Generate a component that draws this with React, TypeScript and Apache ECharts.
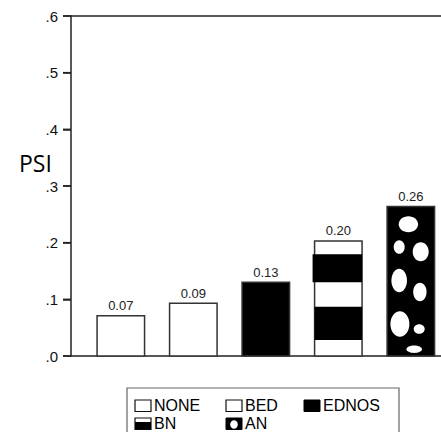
import React, { useEffect, useRef } from "react";
import * as echarts from "echarts";

// ---- data ----
const categories = ["NONE", "BED", "EDNOS", "BN", "AN"];
const psiValues = [0.071, 0.093, 0.13, 0.203, 0.264];
const fillKinds = ["white", "white", "black", "stripes", "dots"];
const yTicks = [0, 0.1, 0.2, 0.3, 0.4, 0.5, 0.6];
const yMin = 0;
const yMax = 0.6;
const yInterval = 0.1;

// ---- styling constants ----
const W = 441;
const H = 432;
const X_MIN = 0.313;
const X_MAX = 5.416;
const BAR_UNITS = 0.655;
const STROKE = "#333";
const AXIS = "#222";
const STRIPES = [
  [0.116, 0.359, -2],
  [0.571, 0.861, 0],
];
const DOTS = [
  [21.3, 131.8, 9.7, 8],
  [12.1, 109, 5.5, 6.8],
  [33.6, 104.3, 8, 9.5],
  [12.1, 75.5, 7.8, 11.8],
  [32.8, 64, 6.7, 9.2],
  [12.8, 32, 9.5, 12.8],
  [32.1, 27, 5.5, 4.8],
  [27.1, 6.8, 7.8, 3.7],
];

function renderBar(params: any, api: any) {
  const i = params.dataIndex;
  const x = api.value(0);
  const y = api.value(1);
  const top = api.coord([x, y]);
  const bot = api.coord([x, 0]);
  const w = api.size([BAR_UNITS, 0])[0];
  const left = top[0] - w / 2;
  const h = bot[1] - top[1];
  const kind = fillKinds[i];
  const children: any[] = [];
  children.push({
    type: "rect",
    shape: { x: left, y: top[1], width: w, height: h },
    style: {
      fill: kind === "black" || kind === "dots" ? "#000" : "#fff",
      stroke: STROKE,
      lineWidth: 1.5,
    },
  });
  if (kind === "stripes") {
    STRIPES.forEach(([a, b, ext]) => {
      children.push({
        type: "rect",
        shape: { x: left + ext, y: top[1] + a * h, width: w - ext, height: (b - a) * h },
        style: { fill: "#000" },
      });
    });
  }
  if (kind === "dots") {
    DOTS.forEach(([dx, dy, rx, ry]) => {
      children.push({
        type: "ellipse",
        shape: { cx: left + dx, cy: bot[1] - dy, rx, ry },
        style: { fill: "#fff" },
      });
    });
  }
  children.push({
    type: "text",
    style: {
      x: top[0],
      y: top[1] - 10,
      text: y.toFixed(2),
      align: "center",
      verticalAlign: "middle",
      font: "13px 'Liberation Sans', Arial, sans-serif",
      fill: "#222",
    },
  });
  return { type: "group", children };
}

// tick marks on the y axis and the top frame line, placed through the axes' scales
function renderFrame(params: any, api: any) {
  const v = api.value(1);
  const p = api.coord([X_MIN, v]);
  const children: any[] = [
    {
      type: "line",
      shape: { x1: p[0] - 8, y1: p[1], x2: p[0], y2: p[1] },
      style: { stroke: AXIS, lineWidth: 1.5 },
    },
  ];
  if (Math.abs(v - yMax) < 1e-9) {
    const pr = api.coord([X_MAX, yMax]);
    children.push({
      type: "line",
      shape: { x1: p[0], y1: p[1], x2: pr[0], y2: p[1] },
      style: { stroke: AXIS, lineWidth: 1.5 },
    });
  }
  return { type: "group", children };
}

function legendGraphics() {
  const colX = [135, 226, 304];
  const rowY = [400, 418];
  const els: any[] = [
    {
      type: "rect",
      shape: { x: 127, y: 388, width: 272, height: 60 },
      style: { fill: "#fff", stroke: "#666", lineWidth: 1.2 },
    },
  ];
  categories.forEach((name, i) => {
    const sx = colX[i % 3];
    const sy = rowY[Math.floor(i / 3)];
    const kind = fillKinds[i];
    const sw = 16;
    const sh = 11.5;
    if (kind === "white") {
      els.push({
        type: "rect",
        shape: { x: sx, y: sy, width: sw, height: sh },
        style: { fill: "#fff", stroke: "#111", lineWidth: 1.2 },
      });
    } else if (kind === "black") {
      els.push({
        type: "rect",
        shape: { x: sx, y: sy, width: sw, height: sh },
        style: { fill: "#000", stroke: "#000", lineWidth: 1 },
      });
    } else if (kind === "stripes") {
      els.push({
        type: "rect",
        shape: { x: sx, y: sy, width: sw, height: sh },
        style: { fill: "#fff", stroke: "#111", lineWidth: 1.2 },
      });
      els.push({
        type: "rect",
        shape: { x: sx, y: sy + 4, width: sw, height: sh - 4 },
        style: { fill: "#000" },
      });
    } else {
      els.push({
        type: "rect",
        shape: { x: sx, y: sy, width: sw, height: sh },
        style: { fill: "#000", stroke: "#000", lineWidth: 1 },
      });
      els.push({
        type: "ellipse",
        shape: { cx: sx + sw / 2, cy: sy + sh / 2 + 0.8, rx: 3.8, ry: 4.3 },
        style: { fill: "#fff" },
      });
    }
    els.push({
      type: "text",
      x: sx + 19,
      y: sy + sh / 2,
      style: {
        text: name,
        font: "16px 'Liberation Sans', Arial, sans-serif",
        fill: "#000",
        verticalAlign: "middle",
        align: "left",
      },
    });
  });
  return els;
}

export default function App() {
  const ref = useRef<HTMLDivElement>(null);
  useEffect(() => {
    if (!ref.current) return;
    const chart = echarts.init(ref.current, null, { renderer: "svg" });
    chart.setOption({
      animation: false,
      grid: { left: 71, right: 0, top: 16, bottom: 76 },
      xAxis: {
        type: "value",
        min: X_MIN,
        max: X_MAX,
        axisLine: { show: true, lineStyle: { color: AXIS, width: 1.5 } },
        axisTick: { show: false },
        axisLabel: { show: false },
        splitLine: { show: false },
      },
      yAxis: {
        type: "value",
        min: yMin,
        max: yMax,
        interval: yInterval,
        axisLine: { show: true, lineStyle: { color: AXIS, width: 1.5 } },
        axisTick: { show: true, length: 8, lineStyle: { color: AXIS, width: 1.5 } },
        axisLabel: {
          margin: 13,
          color: "#111",
          fontSize: 15,
          fontFamily: "'Liberation Sans', Arial, sans-serif",
          formatter: (v: number) => v.toFixed(1).replace(/^0/, ""),
        },
        splitLine: { show: false },
      },
      series: [
        {
          type: "custom",
          renderItem: renderFrame,
          data: yTicks.map((v) => [X_MIN, v]),
          clip: false,
          silent: true,
          z: 3,
        },
        {
          type: "custom",
          renderItem: renderBar,
          data: categories.map((c, i) => [i + 1, psiValues[i]]),
          clip: false,
        },
      ],
      graphic: [
        {
          type: "text",
          left: 19,
          top: 151,
          style: {
            text: "PSI",
            font: "23px 'Open Sans', 'Liberation Sans', sans-serif",
            fill: "#000",
          },
        },
        ...legendGraphics(),
      ],
    });
    return () => chart.dispose();
  }, []);
  return (
    <div
      ref={ref}
      style={{ position: "fixed", left: 0, top: 0, width: W, height: H, background: "#fff" }}
    />
  );
}
